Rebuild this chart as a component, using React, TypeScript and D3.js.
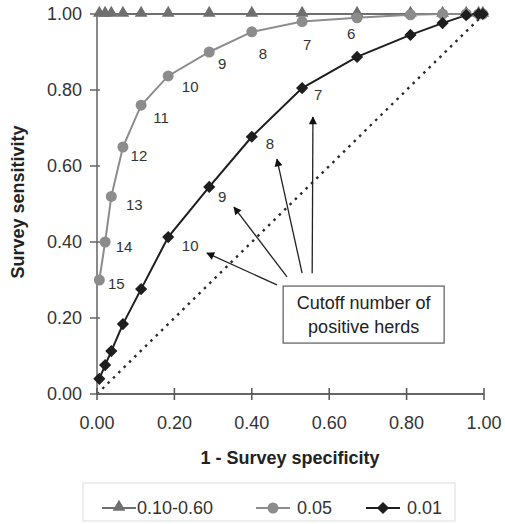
import React from "react";
import * as d3 from "d3";

// Cutoff number of positive herds, shared by every prevalence curve
const cutoffs = [15, 14, 13, 12, 11, 10, 9, 8, 7, 6, 5, 4, 3, 2, 1];
// 1 - survey specificity for each cutoff
const falsePosRate = [0.006, 0.021, 0.037, 0.067, 0.114, 0.184, 0.29, 0.4, 0.53, 0.672, 0.81, 0.893, 0.954, 0.986, 0.997];
// Survey sensitivity by prevalence
const sensHigh = [1, 1, 1, 1, 1, 1, 1, 1, 1, 1, 1, 1, 1, 1, 1];
const sens005 = [0.3, 0.4, 0.52, 0.65, 0.76, 0.837, 0.9, 0.953, 0.98, 0.99, 0.998, 1, 1, 1, 1];
const sens001 = [0.04, 0.076, 0.113, 0.184, 0.276, 0.413, 0.545, 0.677, 0.805, 0.887, 0.945, 0.976, 0.997, 1, 1];

const seriesNames = ["0.10-0.60", "0.05", "0.01"];
const tickValues = [0, 0.2, 0.4, 0.6, 0.8, 1.0];

// Cutoffs annotated beside the points, with pixel nudges for the text
const labels005 = [
  { k: 15, dx: 17, dy: 4 },
  { k: 14, dx: 19, dy: 5 },
  { k: 13, dx: 23, dy: 8 },
  { k: 12, dx: 16, dy: 9 },
  { k: 11, dx: 20, dy: 13 },
  { k: 10, dx: 22, dy: 11 },
  { k: 9, dx: 13, dy: 12 },
  { k: 8, dx: 11, dy: 22 },
  { k: 7, dx: 5, dy: 23 },
  { k: 6, dx: -6, dy: 16 },
];
const labels001 = [
  { k: 10, dx: 22, dy: 9 },
  { k: 9, dx: 13, dy: 10 },
  { k: 8, dx: 18, dy: 7 },
  { k: 7, dx: 16, dy: 7 },
];

// Callout arrows, in data units: [tailX, tailY, tipX, tipY]
const arrows = [
  [0.465, 0.287, 0.284, 0.371],
  [0.491, 0.308, 0.354, 0.492],
  [0.53, 0.318, 0.465, 0.618],
  [0.556, 0.318, 0.558, 0.729],
];
const calloutBox = { x0: 0.481, x1: 0.897, y0: 0.284, y1: 0.134 };
const calloutLines = ["Cutoff number of", "positive herds"];

const FONT = "Liberation Sans, Arial, Helvetica, sans-serif";
const COL_TRI = "#6f6f6f";
const COL_CIR = "#8c8c8c";
const COL_DIA = "#1e1e1e";

const x = d3.scaleLinear().domain([0, 1]).range([97, 484]);
const y = d3.scaleLinear().domain([0, 1]).range([394, 14]);

type Pt = { fx: number; s: number; k: number };
const makePts = (s: number[]): Pt[] => falsePosRate.map((fx, i) => ({ fx, s: s[i], k: cutoffs[i] }));

const line = d3
  .line<Pt>()
  .x((d) => x(d.fx))
  .y((d) => y(d.s));

const triPath = d3.symbol(d3.symbolTriangle, 70)()!;
const cirPath = d3.symbol(d3.symbolCircle, 95)()!;
const diaPath = d3.symbol(d3.symbolSquare, 74)()!;

function Marker({ kind, cx, cy }: { kind: number; cx: number; cy: number }) {
  if (kind === 0) return <path d={triPath} transform={`translate(${cx},${cy - 1})`} fill={COL_TRI} />;
  if (kind === 1) return <path d={cirPath} transform={`translate(${cx},${cy})`} fill={COL_CIR} />;
  return <path d={diaPath} transform={`translate(${cx},${cy}) rotate(45)`} fill={COL_DIA} />;
}

export default function App() {
  const series = [
    { pts: makePts(sensHigh), color: COL_TRI },
    { pts: makePts(sens005), color: COL_CIR },
    { pts: makePts(sens001), color: COL_DIA },
  ];
  const ptFor = (s: number[], k: number) => {
    const i = cutoffs.indexOf(k);
    return { px: x(falsePosRate[i]), py: y(s[i]) };
  };

  const legendItems = [
    { x: 102, tx: 137 },
    { x: 256, tx: 297 },
    { x: 366, tx: 407 },
  ];

  return (
    <svg
      width={505}
      height={524}
      style={{ position: "absolute", left: 0, top: 0, background: "#fff" }}
      fontFamily={FONT}
    >
      <defs>
        <marker id="ah" viewBox="0 0 10 10" refX="9" refY="5" markerWidth="11" markerHeight="8" markerUnits="userSpaceOnUse" orient="auto">
          <path d="M0,0 L10,5 L0,10 Z" fill="#111" />
        </marker>
      </defs>

      {/* diagonal reference line */}
      <line x1={x(0)} y1={y(0)} x2={x(1)} y2={y(1)} stroke="#2a2a2a" strokeWidth={2.4} strokeDasharray="2.5 5" />

      {/* axes */}
      <line x1={x(0)} y1={y(0)} x2={x(0)} y2={y(1)} stroke="#8a8a8a" strokeWidth={2} />
      <line x1={x(0)} y1={y(0)} x2={x(1)} y2={y(0)} stroke="#666" strokeWidth={2} />
      {tickValues.map((t) => (
        <g key={"y" + t}>
          <line x1={x(0) - 7} x2={x(0) + 3} y1={y(t)} y2={y(t)} stroke="#666" strokeWidth={1.5} />
          <text x={82} y={y(t)} dy="0.35em" textAnchor="end" fontSize={18} fill="#333">
            {t.toFixed(2)}
          </text>
        </g>
      ))}
      {tickValues.map((t) => (
        <g key={"x" + t}>
          <line x1={x(t)} x2={x(t)} y1={y(0) - 6} y2={y(0) + 6} stroke="#555" strokeWidth={1.5} />
          <text x={x(t)} y={423} dy="0.35em" textAnchor="middle" fontSize={18} fill="#333">
            {t.toFixed(2)}
          </text>
        </g>
      ))}
      <text x={290} y={458} dy="0.35em" textAnchor="middle" fontSize={18} fontWeight="bold" fill="#222">
        1 - Survey specificity
      </text>
      <text
        transform={`translate(18,${202}) rotate(-90)`}
        dy="0.35em"
        textAnchor="middle"
        fontSize={18}
        fontWeight="bold"
        fill="#222"
      >
        Survey sensitivity
      </text>

      {/* curves */}
      {series.map((s, i) => (
        <path key={"l" + i} d={line(s.pts)!} fill="none" stroke={s.color} strokeWidth={2} />
      ))}
      {series.map((s, i) => (
        <g key={"m" + i}>
          {s.pts.map((p, j) => (
            <Marker key={j} kind={i} cx={x(p.fx)} cy={y(p.s)} />
          ))}
        </g>
      ))}

      {/* cutoff labels */}
      {labels005.map((l) => {
        const { px, py } = ptFor(sens005, l.k);
        return (
          <text key={"a" + l.k} x={px + l.dx} y={py + l.dy} dy="0.35em" textAnchor="middle" fontSize={15} fill="#333">
            {l.k}
          </text>
        );
      })}
      {labels001.map((l) => {
        const { px, py } = ptFor(sens001, l.k);
        return (
          <text key={"b" + l.k} x={px + l.dx} y={py + l.dy} dy="0.35em" textAnchor="middle" fontSize={15} fill="#333">
            {l.k}
          </text>
        );
      })}

      {/* callout */}
      {arrows.map((a, i) => (
        <line key={"ar" + i} x1={x(a[0])} y1={y(a[1])} x2={x(a[2])} y2={y(a[3])} stroke="#222" strokeWidth={1.3} markerEnd="url(#ah)" />
      ))}
      <rect
        x={x(calloutBox.x0)}
        y={y(calloutBox.y0)}
        width={x(calloutBox.x1) - x(calloutBox.x0)}
        height={y(calloutBox.y1) - y(calloutBox.y0)}
        fill="#fff"
        stroke="#666"
        strokeWidth={1.3}
      />
      {calloutLines.map((t, i) => (
        <text
          key={"c" + i}
          x={(x(calloutBox.x0) + x(calloutBox.x1)) / 2}
          y={y(calloutBox.y0) + 17 + i * 24}
          dy="0.35em"
          textAnchor="middle"
          fontSize={18}
          fill="#222"
        >
          {t}
        </text>
      ))}

      {/* legend */}
      <rect x={83} y={483} width={372} height={38} fill="#fff" stroke="#ddd" strokeWidth={1} />
      {legendItems.map((it, i) => (
        <g key={"lg" + i}>
          <line x1={it.x} x2={it.x + 34} y1={508} y2={508} stroke={series[i].color} strokeWidth={2} />
          <Marker kind={i} cx={it.x + 17} cy={508} />
          <text x={it.tx} y={508} dy="0.35em" fontSize={18} fill="#333">
            {seriesNames[i]}
          </text>
        </g>
      ))}
    </svg>
  );
}
